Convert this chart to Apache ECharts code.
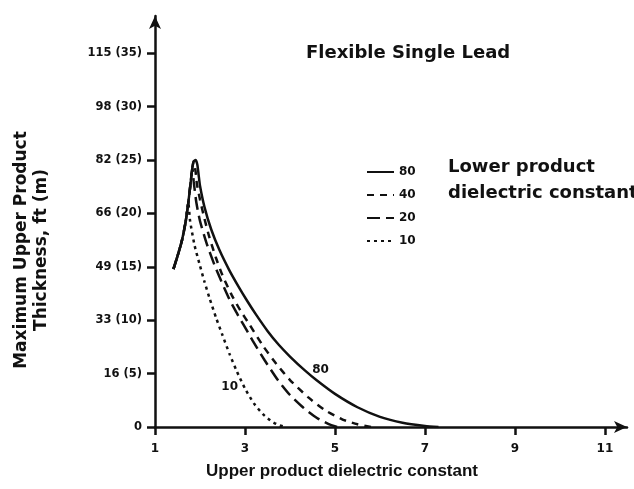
<!DOCTYPE html>
<html>
<head>
<meta charset="utf-8">
<script src="https://cdn.jsdelivr.net/npm/echarts@6/dist/echarts.min.js"></script>
<style>
html,body{margin:0;padding:0;background:#fff;}
#chart{width:634px;height:489px;}
</style>
</head>
<body>
<div id="chart"></div>
<script>
// lower product dielectric constants (legend)
var seriesNames = ['80', '40', '20', '10'];

// x = upper product dielectric constant, y = thickness in metres
var rising = [[1.41,14.8],[1.5,16.0],[1.6,17.5],[1.68,19.2],[1.74,21.0],[1.79,22.8],[1.83,24.3],[1.86,24.9]];

var curve80 = [[1.9,25.0],[1.94,24.6],[1.97,23.6],[2.0,22.6],[2.1,20.6],[2.25,18.5],[2.43,16.6],[2.65,14.7],
	[2.85,13.2],[3.05,11.8],[3.25,10.5],[3.5,9.0],[3.75,7.7],[4.0,6.6],[4.33,5.3],[4.6,4.35],[5.0,3.1],
	[5.5,1.85],[6.0,0.95],[6.5,0.4],[7.0,0.1],[7.3,0]];
var curve40 = [[1.9,24.0],[1.93,22.8],[2.0,21.3],[2.1,19.5],[2.2,17.9],[2.35,15.9],[2.5,14.2],[2.7,12.4],
	[2.9,10.9],[3.1,9.6],[3.4,7.6],[3.7,5.9],[4.0,4.4],[4.4,2.8],[4.77,1.6],[5.17,0.7],[5.5,0.25],[5.8,0]];
var curve20 = [[1.86,23.0],[1.92,21.0],[2.0,19.3],[2.14,17.3],[2.32,15.2],[2.47,13.7],[2.65,12.0],[2.8,10.8],
	[2.95,9.7],[3.17,8.1],[3.43,6.3],[3.73,4.4],[4.0,3.0],[4.3,1.8],[4.6,0.85],[4.85,0.3],[5.05,0]];
var curve10 = [[1.78,19.3],[1.88,17.0],[2.0,15.1],[2.1,13.6],[2.21,12.1],[2.36,10.2],[2.5,8.6],[2.66,6.8],
	[2.82,5.2],[3.0,3.6],[3.2,2.2],[3.4,1.2],[3.6,0.5],[3.77,0.15],[3.9,0]];

var xTicks = [1, 3, 5, 7, 9, 11];
var yTicks = [0, 5, 10, 15, 20, 25, 30, 35];
var yTickLabels = ['0', '16 (5)', '33 (10)', '49 (15)', '66 (20)', '82 (25)', '98 (30)', '115 (35)'];

var font = 'DejaVu Sans';
var ink = '#111';

function lineSeries(name, data, dash, mark){
	var s = {
		name: name,
		type: 'line',
		data: data,
		smooth: 0.2,
		showSymbol: false,
		symbol: 'none',
		lineStyle: {color: ink, width: 2.5, type: dash},
		itemStyle: {color: ink},
		z: name === '80' ? 5 : 3
	};
	if(mark){
		s.markPoint = {
			symbol: 'circle',
			symbolSize: 1,
			itemStyle: {color: 'transparent'},
			label: {show: true, position: 'inside', formatter: name, color: ink,
				fontFamily: font, fontWeight: 'bold', fontSize: 12},
			data: [{coord: mark}]
		};
	}
	return s;
}

var chart = echarts.init(document.getElementById('chart'));
chart.setOption({
	backgroundColor: '#fff',
	animation: false,
	title: {
		text: 'Flexible Single Lead',
		left: 306, top: 44, padding: 0,
		textStyle: {fontFamily: font, fontWeight: 'bold', fontSize: 18, color: ink}
	},
	legend: {
		orient: 'vertical',
		left: 361, top: 161,
		itemWidth: 27, itemHeight: 14, itemGap: 11,
		data: seriesNames,
		itemStyle: {opacity: 0},
		textStyle: {fontFamily: font, fontWeight: 'bold', fontSize: 12, color: ink}
	},
	grid: {left: 155, right: 7, top: 16, bottom: 62},
	xAxis: {
		type: 'value',
		min: 1, max: 11.49,
		splitLine: {show: false},
		axisLine: {lineStyle: {color: ink, width: 2.5}, symbol: ['none', 'arrow'], symbolSize: [9, 13]},
		axisTick: {customValues: xTicks, length: 8, lineStyle: {width: 2.5, color: ink}},
		axisLabel: {customValues: xTicks, margin: 16, color: ink, fontFamily: font, fontWeight: 'bold', fontSize: 12}
	},
	yAxis: {
		type: 'value',
		min: 0, max: 38.5,
		splitLine: {show: false},
		axisLine: {lineStyle: {color: ink, width: 2.5}, symbol: ['none', 'arrow'], symbolSize: [9, 13]},
		axisTick: {customValues: yTicks, length: 8, lineStyle: {width: 2.5, color: ink}},
		axisLabel: {
			customValues: yTicks, margin: 13, color: ink, fontFamily: font, fontWeight: 'bold', fontSize: 11.5,
			formatter: function(v){ return yTickLabels[yTicks.indexOf(v)]; }
		}
	},
	graphic: [
		{type: 'text', left: 448, top: 154,
			style: {text: 'Lower product\ndielectric constant', fontFamily: font, fontWeight: 'bold', fontSize: 18, lineHeight: 26, fill: ink}},
		{type: 'text', x: 342, y: 471,
			style: {text: 'Upper product dielectric constant', fontFamily: 'Liberation Sans', fontWeight: 'bold', fontSize: 17,
				fill: ink, align: 'center', verticalAlign: 'middle'}},
		{type: 'text', x: 32, y: 250, rotation: Math.PI / 2,
			style: {text: 'Maximum Upper Product\nThickness, ft (m)', fontFamily: font, fontWeight: 'bold', fontSize: 17,
				lineHeight: 20, fill: ink, align: 'center', verticalAlign: 'middle'}}
	],
	series: [
		lineSeries('80', rising.concat(curve80), 'solid', [4.68, 5.31]),
		lineSeries('40', rising.concat(curve40), [7, 6]),
		lineSeries('20', rising.slice(0, 7).concat(curve20), [13, 6]),
		lineSeries('10', rising.slice(0, 5).concat(curve10), [3, 4], [2.66, 3.75])
	]
});
</script>
</body>
</html>
